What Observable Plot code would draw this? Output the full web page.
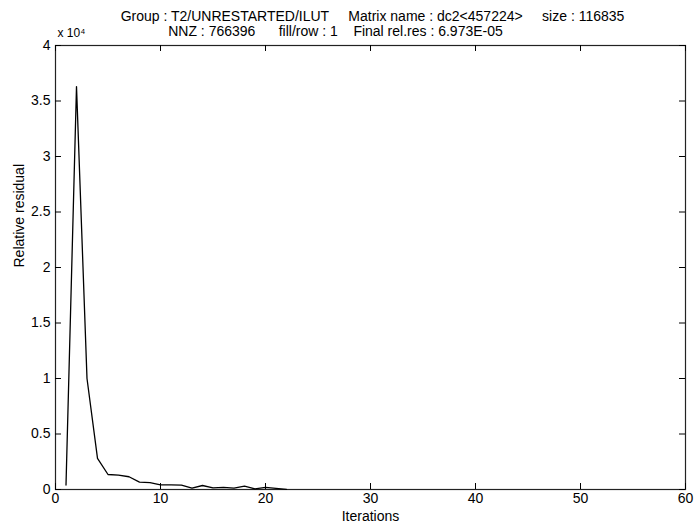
<!DOCTYPE html>
<html>
<head>
<meta charset="utf-8">
<script src="https://cdn.jsdelivr.net/npm/d3@7"></script>
<script src="https://cdn.jsdelivr.net/npm/@observablehq/plot@0.6"></script>
<style>
  html, body { margin: 0; padding: 0; background: #fff; }
  #chart { width: 696px; height: 527px; }
</style>
</head>
<body>
<div id="chart"></div>
<script>
// Iterations and relative residual (in units of 10^4)
const iterations = [1, 2, 3, 4, 5, 6, 7, 8, 9, 10, 11, 12, 13, 14, 15, 16, 17, 18, 19, 20, 21, 22];
const residualE4 = [0.04, 3.63, 1.0, 0.28, 0.135, 0.13, 0.115, 0.066, 0.062, 0.042, 0.042, 0.04, 0.012, 0.036, 0.015, 0.02, 0.012, 0.03, 0.006, 0.02, 0.01, 0.001];
const xTicks = [0, 10, 20, 30, 40, 50, 60];
const yTicks = [0, 0.5, 1, 1.5, 2, 2.5, 3, 3.5, 4];
const title1 = "Group : T2/UNRESTARTED/ILUT     Matrix name : dc2<457224>     size : 116835";
const title2 = "NNZ : 766396      fill/row : 1    Final rel.res : 6.973E-05";
const xLabel = "Iterations";
const yLabel = "Relative residual";
const expLabel = "x 10⁴";

const data = iterations.map((it, i) => ({it, r: residualE4[i]}));

const chart = Plot.plot({
  width: 696,
  height: 527,
  marginLeft: 55,
  marginRight: 11,
  marginTop: 45,
  marginBottom: 38,
  style: {fontFamily: "'Liberation Sans', Arial, Helvetica, sans-serif", fontSize: "14px", color: "#000", background: "#fff"},
  x: {domain: [0, 60]},
  y: {domain: [0, 4]},
  marks: [
    Plot.frame({stroke: "#222", strokeWidth: 1.2}),
    // inward ticks: bottom, top, left, right
    Plot.ruleX(xTicks, {x: d => d, y1: 0, y2: 0.054, stroke: "#000"}),
    Plot.ruleX(xTicks, {x: d => d, y1: 4 - 0.054, y2: 4, stroke: "#000"}),
    Plot.ruleY(yTicks, {y: d => d, x1: 0, x2: 0.57, stroke: "#000"}),
    Plot.ruleY(yTicks, {y: d => d, x1: 60 - 0.57, x2: 60, stroke: "#000"}),
    Plot.axisX(xTicks, {tickSize: 0, tickPadding: 4, label: null, fontSize: 14}),
    Plot.axisY(yTicks, {tickSize: 0, tickPadding: 5, label: null, tickFormat: d => String(d), fontSize: 14}),
    Plot.line(data, {x: "it", y: "r", stroke: "#000", strokeWidth: 1.3}),
    Plot.text([title1], {frameAnchor: "top", lineAnchor: "middle", dy: -29, dx: 2, fontSize: 14}),
    Plot.text([title2], {frameAnchor: "top", lineAnchor: "middle", dy: -14, dx: -35, fontSize: 14}),
    Plot.text([expLabel], {frameAnchor: "top-left", lineAnchor: "middle", dy: -12, dx: 2, textAnchor: "start", fontSize: 12}),
    Plot.text([xLabel], {frameAnchor: "bottom", lineAnchor: "middle", dy: 27, fontSize: 14}),
    Plot.text([yLabel], {frameAnchor: "left", lineAnchor: "middle", rotate: -90, dx: -36, fontSize: 14})
  ]
});
document.getElementById("chart").appendChild(chart);
</script>
</body>
</html>
